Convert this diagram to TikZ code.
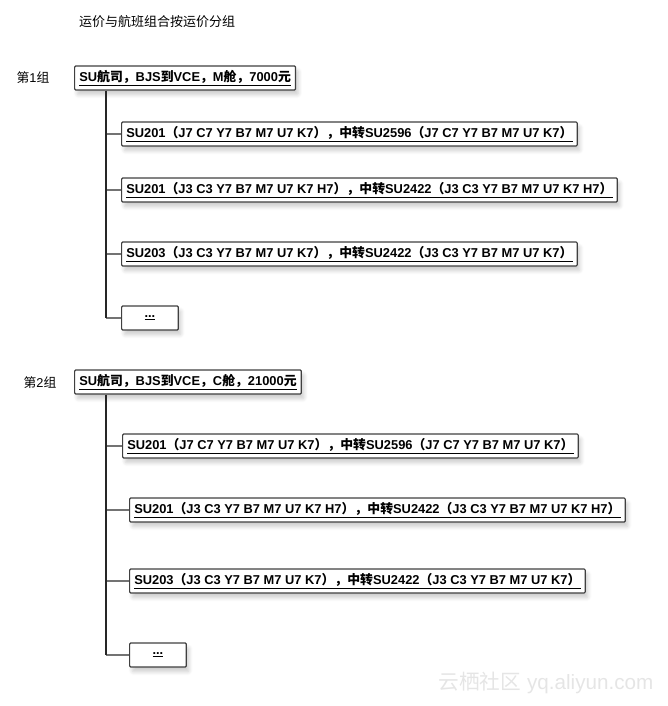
\documentclass[tikz,border=0pt]{standalone}
\usepackage{fontspec}
\setmainfont{Liberation Sans}
\newfontfamily\cjk{Noto Sans CJK SC}
\newcommand{\C}[1]{{\cjk #1}}
\usetikzlibrary{shadows.blur}
\definecolor{boxline}{gray}{0.25}
\tikzset{
  box/.style={draw=boxline, line width=0.9pt, rounded corners=0.8pt, fill=white,
    anchor=west, minimum height=18pt, inner xsep=3.5pt, inner ysep=0pt,
    font=\fontsize{9.65}{11}\selectfont\bfseries,
    blur shadow={shadow blur steps=6, shadow xshift=2pt, shadow yshift=-3.5pt, shadow opacity=20, shadow blur radius=3pt}},
  dots/.style={box, minimum width=42.5pt},
  grp/.style={font=\fontsize{9.6}{11}\selectfont, anchor=center},
  trunk/.style={draw=black!85, line width=1.1pt},
  branch/.style={draw=black!55, line width=1.1pt},
}
\begin{document}
\begin{tikzpicture}[x=0.75pt,y=-0.75pt]
\useasboundingbox (0,0) rectangle (667,706);

\node[font=\fontsize{9.75}{11}\selectfont] (title) at (157,22) {\C{运价与航班组合按运价分组}};

% group 1
\node[grp] (g1) at (33,78) {\C{第}1\C{组}};
\node[box] (h1) at (74,78) {\underline{SU\C{航司，}BJS\C{到}VCE\C{，}M\C{舱，}7000\C{元}}};
\node[box] (a1) at (121,134) {\underline{SU201\C{（}J7 C7 Y7 B7 M7 U7 K7\C{），中转}SU2596\C{（}J7 C7 Y7 B7 M7 U7 K7\C{）}}};
\node[box] (b1) at (121,190) {\underline{SU201\C{（}J3 C3 Y7 B7 M7 U7 K7 H7\C{），中转}SU2422\C{（}J3 C3 Y7 B7 M7 U7 K7 H7\C{）}}};
\node[box] (c1) at (121,254) {\underline{SU203\C{（}J3 C3 Y7 B7 M7 U7 K7\C{），中转}SU2422\C{（}J3 C3 Y7 B7 M7 U7 K7\C{）}}};
\node[dots] (d1) at (121,318) {\underline{...}};
\coordinate (t1) at (106,90);
\draw[branch] (t1 |- a1.west) -- (a1.west);
\draw[branch] (t1 |- b1.west) -- (b1.west);
\draw[branch] (t1 |- c1.west) -- (c1.west);
\draw[branch] (t1 |- d1.west) -- (d1.west);
\draw[trunk] (t1 |- h1.south) -- (t1 |- d1.west);

% group 2
\node[grp] (g2) at (40,383) {\C{第}2\C{组}};
\node[box] (h2) at (74,382) {\underline{SU\C{航司，}BJS\C{到}VCE\C{，}C\C{舱，}21000\C{元}}};
\node[box] (a2) at (122,446) {\underline{SU201\C{（}J7 C7 Y7 B7 M7 U7 K7\C{），中转}SU2596\C{（}J7 C7 Y7 B7 M7 U7 K7\C{）}}};
\node[box] (b2) at (129,510) {\underline{SU201\C{（}J3 C3 Y7 B7 M7 U7 K7 H7\C{），中转}SU2422\C{（}J3 C3 Y7 B7 M7 U7 K7 H7\C{）}}};
\node[box] (c2) at (129,581) {\underline{SU203\C{（}J3 C3 Y7 B7 M7 U7 K7\C{），中转}SU2422\C{（}J3 C3 Y7 B7 M7 U7 K7\C{）}}};
\node[dots] (d2) at (129,655) {\underline{...}};
\coordinate (t2) at (106,394);
\draw[branch] (t2 |- a2.west) -- (a2.west);
\draw[branch] (t2 |- b2.west) -- (b2.west);
\draw[branch] (t2 |- c2.west) -- (c2.west);
\draw[branch] (t2 |- d2.west) -- (d2.west);
\draw[trunk] (t2 |- h2.south) -- (t2 |- d2.west);

% watermark
\node[text=black!10, font=\fontsize{15.5}{17}\selectfont, anchor=center] (wm) at (546,683) {\C{云栖社区} yq.aliyun.com};
\end{tikzpicture}
\end{document}
